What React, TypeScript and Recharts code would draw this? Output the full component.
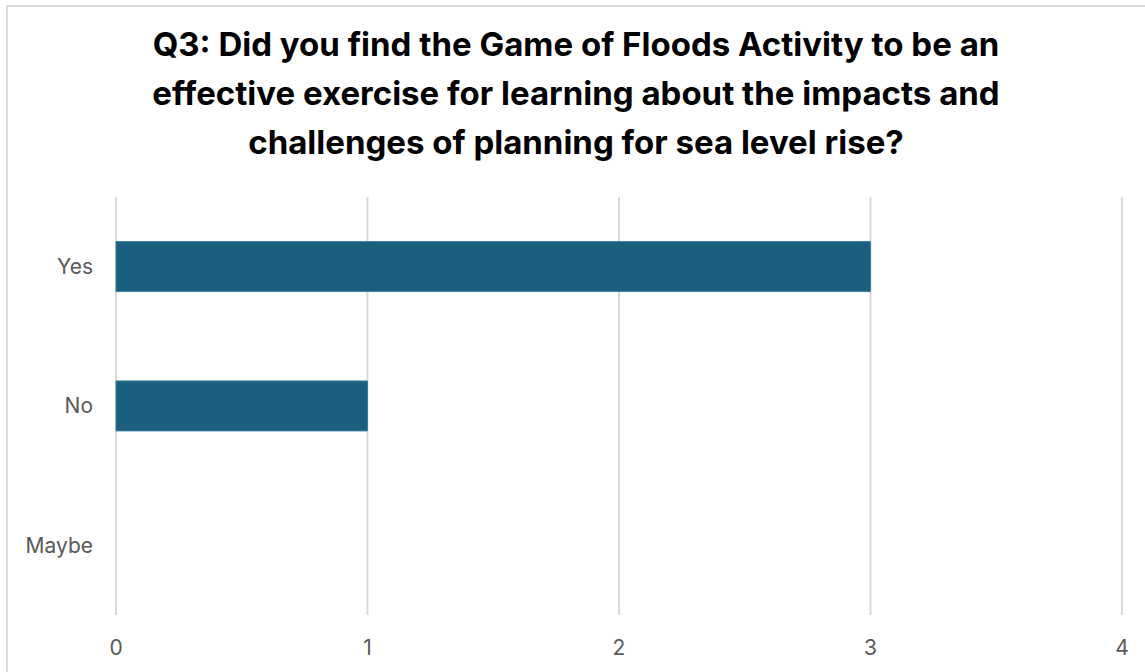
import { Bar, BarChart, CartesianGrid, XAxis, YAxis } from 'recharts';

const answers = ['Yes', 'No', 'Maybe'];
const counts = [3, 1, 0];
const xTicks = [0, 1, 2, 3, 4];

const titleLines = [
  'Q3: Did you find the Game of Floods Activity to be an',
  'effective exercise for learning about the impacts and',
  'challenges of planning for sea level rise?',
];

const data = answers.map((answer, i) => ({ answer, count: counts[i] }));

export default function App() {
  return (
    <div
      style={{
        position: 'absolute',
        left: 0,
        top: 0,
        width: 1145,
        height: 672,
        overflow: 'hidden',
        background: '#fff',
        fontFamily: 'Inter, "Noto Sans", sans-serif',
      }}
    >
      <div
        style={{
          position: 'absolute',
          left: 6,
          top: 5,
          width: 1300,
          height: 800,
          border: '2px solid #d9d9d9',
          boxSizing: 'border-box',
        }}
      />
      <div
        style={{
          position: 'absolute',
          left: 6,
          top: 20,
          width: 1140,
          textAlign: 'center',
          fontSize: 33,
          fontWeight: 700,
          lineHeight: '49px',
          color: '#000',
        }}
      >
        {titleLines.map((line) => (
          <div key={line}>{line}</div>
        ))}
      </div>
      <div style={{ position: 'absolute', left: 0, top: 0 }}>
        <BarChart
          width={1145}
          height={672}
          data={data}
          layout="vertical"
          barCategoryGap="32%"
          margin={{ top: 197, right: 23, bottom: 17, left: 16 }}
        >
          <CartesianGrid horizontal={false} stroke="#d9d9d9" strokeWidth={2} />
          <XAxis
            type="number"
            domain={[0, 4]}
            ticks={xTicks}
            axisLine={false}
            tickLine={false}
            tickMargin={19}
            height={40}
            tick={{ fontSize: 21, fill: '#595959' }}
          />
          <YAxis
            type="category"
            dataKey="answer"
            width={100}
            axisLine={false}
            tickLine={false}
            tickMargin={17}
            tick={{ fontSize: 21, fill: '#595959' }}
          />
          <Bar
            dataKey="count"
            fill="#1a5f80"
            stroke="#3f7f9c"
            strokeWidth={1}
            isAnimationActive={false}
          />
        </BarChart>
      </div>
    </div>
  );
}
